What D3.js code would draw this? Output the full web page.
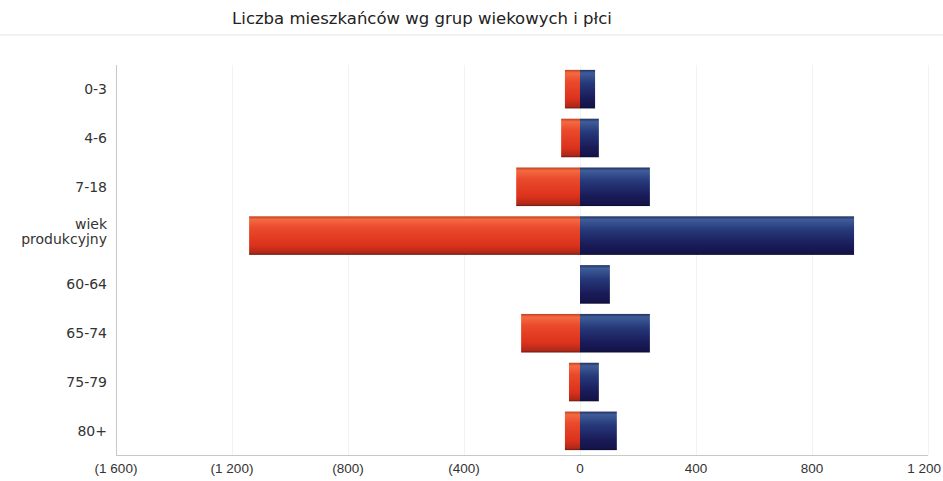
<!DOCTYPE html>
<html>
<head>
<meta charset="utf-8">
<script src="https://cdn.jsdelivr.net/npm/d3@7"></script>
<style>
	body { margin: 0; background: #fff; }
	svg { display: block; font-family: "DejaVu Sans", sans-serif; }
</style>
</head>
<body>
<svg id="plot" width="943" height="481"></svg>
<script>

const TITLE = 'Liczba mieszkańców wg grup wiekowych i płci';
const GROUPS = ['0-3', '4-6', '7-18', 'wiek produkcyjny', '60-64', '65-74', '75-79', '80+'];
const WOMEN = [52, 65, 220, 1141, 0, 203, 38, 52];
const MEN = [52, 65, 241, 945, 103, 241, 65, 127];
const X_TICKS = [-1600, -1200, -800, -400, 0, 400, 800, 1200];

const data = GROUPS.map((g, i) => {
	return {'name': g, 'women': WOMEN[i], 'men': MEN[i]};
});

const box = {left: 116, right: 928, top: 65, bottom: 455};

// negative numbers in parentheses, space as thousands separator
function fmt(v) {
	const s = Math.abs(v).toString().replace(/\B(?=(\d{3})+(?!\d))/g, ' ');
	return v < 0 ? '(' + s + ')' : s;
}

const svg = d3.select('#plot');

// gradients
const defs = svg.append('defs');
function grad(id, stops) {
	const g = defs.append('linearGradient').attr('id', id)
		.attr('x1', 0).attr('y1', 0).attr('x2', 0).attr('y2', 1);
	stops.forEach(s => g.append('stop').attr('offset', s[0]).attr('stop-color', s[1]));
}
grad('red', [[0, '#c0401f'], [0.08, '#f46a42'], [0.3, '#ea4a2c'], [0.75, '#dc321c'], [0.95, '#b02818'], [1, '#6a1a10']]);
grad('navy', [[0, '#243060'], [0.08, '#3e5d98'], [0.35, '#26397a'], [0.75, '#1a1a58'], [0.95, '#14144a'], [1, '#0c0c30']]);

const x = d3.scaleLinear().domain([-1600, 1200]).range([box.left, box.right]);
const y = d3.scaleBand().domain(GROUPS).range([box.top, box.bottom]).paddingInner(0.21).paddingOuter(0.1);

// title
svg.append('text')
	.attr('x', 422).attr('y', 24)
	.attr('text-anchor', 'middle')
	.style('font-size', '16.5px').style('fill', '#222')
	.text(TITLE);
svg.append('line')
	.attr('x1', 0).attr('x2', 943).attr('y1', 35).attr('y2', 35)
	.style('stroke', '#ececec').style('stroke-width', 1.5);

// grid
svg.append('g').selectAll('line')
	.data(X_TICKS.slice(1))
	.enter().append('line')
	.attr('x1', d => x(d) + 0.5).attr('x2', d => x(d) + 0.5)
	.attr('y1', box.top).attr('y2', box.bottom)
	.style('stroke', '#f2f2f2');

// axes lines
svg.append('line')
	.attr('x1', box.left + 0.5).attr('x2', box.left + 0.5)
	.attr('y1', box.top).attr('y2', box.bottom)
	.style('stroke', '#c8c8c8');
svg.append('line')
	.attr('x1', box.left).attr('x2', box.right)
	.attr('y1', box.bottom + 0.5).attr('y2', box.bottom + 0.5)
	.style('stroke', '#c8c8c8');

// x labels (last one kept inside the page)
const last = X_TICKS[X_TICKS.length - 1];
svg.append('g').selectAll('text')
	.data(X_TICKS)
	.enter().append('text')
	.attr('x', d => d === last ? 941 : x(d))
	.attr('y', 473)
	.attr('text-anchor', d => d === last ? 'end' : 'middle')
	.style('font-family', '"Liberation Sans", sans-serif')
	.style('font-size', '13.5px').style('fill', '#333')
	.text(d => fmt(d));

// y labels
const yl = svg.append('g').selectAll('text')
	.data(data)
	.enter().append('text')
	.attr('text-anchor', 'end')
	.style('font-size', '14px').style('fill', '#333');
yl.each(function(d) {
	const t = d3.select(this);
	const c = y(d.name) + y.bandwidth() / 2;
	const parts = d.name.split(' ');
	if (parts.length > 1) {
		parts.forEach((p, i) => {
			t.append('tspan').attr('x', 107).attr('y', c - 3 + (i - 0.5) * 15 + 4).text(p);
		});
	} else {
		t.attr('x', 107).attr('y', c + 5).text(d.name);
	}
});

// bars
const bars = svg.append('g');
bars.selectAll('rect.w')
	.data(data.filter(d => d.women > 0))
	.enter().append('rect')
	.attr('class', 'w')
	.attr('x', d => x(-d.women))
	.attr('y', d => y(d.name))
	.attr('width', d => x(0) - x(-d.women))
	.attr('height', y.bandwidth())
	.style('fill', 'url(#red)');
bars.selectAll('rect.m')
	.data(data)
	.enter().append('rect')
	.attr('class', 'm')
	.attr('x', x(0))
	.attr('y', d => y(d.name))
	.attr('width', d => x(d.men) - x(0))
	.attr('height', y.bandwidth())
	.style('fill', 'url(#navy)');

</script>
</body>
</html>
